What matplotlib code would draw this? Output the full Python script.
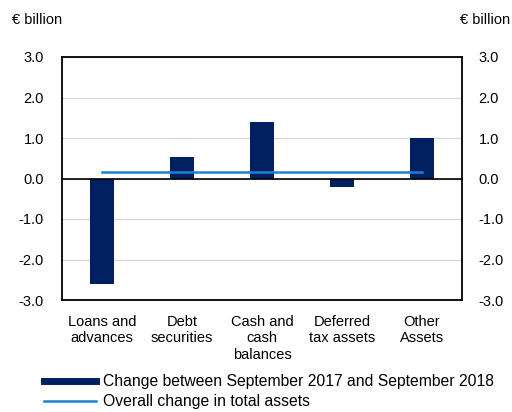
import matplotlib.pyplot as plt
import numpy as np
from matplotlib.lines import Line2D

plt.rcParams['font.family'] = ['Liberation Sans', 'DejaVu Sans']

# Data
categories = ['Loans and\nadvances', 'Debt\nsecurities', 'Cash and\ncash\nbalances',
              'Deferred\ntax assets', 'Other\nAssets']
change = [-2.6, 0.52, 1.4, -0.2, 1.0]
total_change = [0.15, 0.15, 0.15, 0.15, 0.15]
yticks = [-3.0, -2.0, -1.0, 0.0, 1.0, 2.0, 3.0]

bar_color = '#002060'
line_color = '#1f7fd0'

fig = plt.figure(figsize=(5.12, 4.12), dpi=100)
ax = fig.add_axes([62 / 512, 1 - 300 / 412, 400 / 512, 243 / 412])

x = np.arange(len(categories))
ax.bar(x, change, width=0.31, color=bar_color, zorder=3)
ax.plot(x, total_change, color=line_color, linewidth=1.8, zorder=4)
ax.axhline(0, color='black', linewidth=1.2, zorder=5)

ax.set_xlim(-0.5, len(categories) - 0.5)
ax.set_ylim(-3, 3)
ax.set_yticks(yticks)
ax.set_yticklabels([f'{v:.1f}' for v in yticks], fontsize=10.5)
ax.set_xticks(x)
ax.set_xticklabels(categories, fontsize=10.5, linespacing=1.2)
ax.tick_params(axis='both', length=0)
ax.tick_params(axis='y', pad=13)
ax.tick_params(axis='x', pad=11)
ax.grid(axis='y', color='#d9d9d9', linewidth=1, zorder=0)
for s in ax.spines.values():
    s.set_linewidth(1.3)
    s.set_color('black')

ax2 = ax.twinx()
ax2.set_ylim(-3, 3)
ax2.set_yticks(yticks)
ax2.set_yticklabels([f'{v:.1f}' for v in yticks], fontsize=10.5)
ax2.tick_params(axis='y', length=0, pad=12)
for s in ax2.spines.values():
    s.set_visible(False)

fig.text(12 / 512, 1 - 20 / 412, '€ billion', fontsize=10.5, va='center', ha='left')
fig.text(510 / 512, 1 - 20 / 412, '€ billion', fontsize=10.5, va='center', ha='right')

handles = [Line2D([0], [0], color=bar_color, linewidth=5),
           Line2D([0], [0], color=line_color, linewidth=1.8)]
labels = ['Change between September 2017 and September 2018',
          'Overall change in total assets']
fig.legend(handles, labels, loc='upper left', bbox_to_anchor=(44 / 512, 1 - 374 / 412),
           frameon=False, fontsize=11.3, handlelength=3.3, handletextpad=0.45,
           labelspacing=0.32, borderaxespad=0, borderpad=0)

fig.savefig('out.png', dpi=100)
